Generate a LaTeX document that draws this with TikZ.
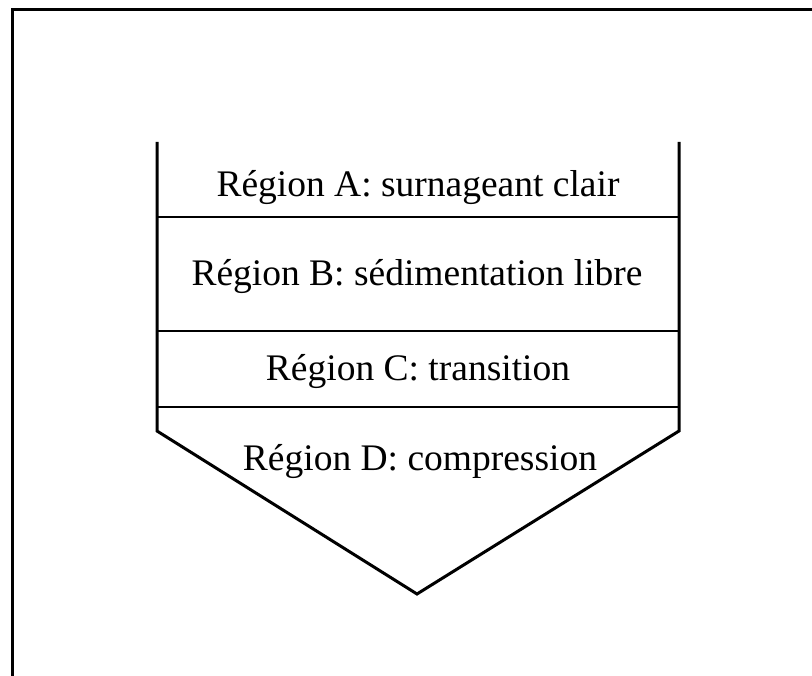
\documentclass[tikz,border=0pt]{standalone}
\usepackage{fontspec}
\setmainfont{Liberation Serif}
\begin{document}
\begin{tikzpicture}[x=1pt,y=-1pt,
  wall/.style={line width=3pt,line join=miter},
  sep/.style={line width=2pt},
  lbl/.style={font=\fontsize{37.5}{42}\selectfont,inner sep=0pt,anchor=base}]
\useasboundingbox (0,0) rectangle (812,676);
% outer frame (top and left)
\draw[line width=3pt] (12,676) -- (12,10) -- (812,10);
% vessel
\coordinate (tl) at (157,142);
\coordinate (tr) at (679,142);
\coordinate (bl) at (157,431);
\coordinate (br) at (679,431);
\coordinate (tip) at (417,594);
\draw[wall] (tl) -- (bl) -- (tip) -- (br) -- (tr);
% separators
\coordinate (ab1) at (157,217); \coordinate (ab2) at (679,217);
\coordinate (bc1) at (157,331); \coordinate (bc2) at (679,331);
\coordinate (cd1) at (157,407); \coordinate (cd2) at (679,407);
\draw[sep] (ab1) -- (ab2);
\draw[sep] (bc1) -- (bc2);
\draw[sep] (cd1) -- (cd2);
% labels
\node[lbl] (ra) at (418,197) {Région A: surnageant clair};
\node[lbl] (rb) at (417,286) {Région B: sédimentation libre};
\node[lbl] (rc) at (418,381) {Région C: transition};
\node[lbl] (rd) at (420,471) {Région D: compression};
\end{tikzpicture}
\end{document}
